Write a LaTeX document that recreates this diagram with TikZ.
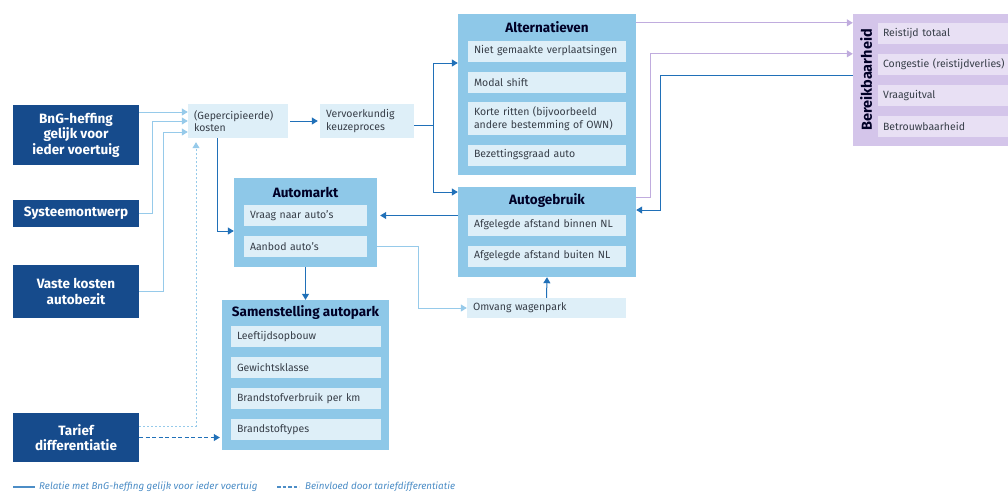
\documentclass[tikz,border=0pt]{standalone}
\usepackage{fontspec}
\setmainfont{Fira Sans}
\usetikzlibrary{arrows.meta,positioning}
\hyphenpenalty=10000

\definecolor{donkerblauw}{RGB}{22,75,140}
\definecolor{groepblauw}{RGB}{142,200,232}
\definecolor{lichtblauw}{RGB}{222,239,248}
\definecolor{lijnblauw}{RGB}{32,112,184}
\definecolor{lijnlicht}{RGB}{150,202,234}
\definecolor{paars}{RGB}{212,197,234}
\definecolor{lichtpaars}{RGB}{232,224,244}
\definecolor{lijnpaars}{RGB}{192,172,222}
\definecolor{tekstgrijs}{RGB}{55,62,72}

\begin{document}
\begin{tikzpicture}[x=1pt,y=-1pt]

    \tikzset{bron/.style = {shape=rectangle,fill=donkerblauw,text=white,font=\fontsize{13.5}{15.5}\selectfont\bfseries,align=center,minimum width=126pt,inner sep=0pt}}
    \tikzset{groep/.style = {shape=rectangle,fill=groepblauw,inner sep=0pt}}
    \tikzset{titel/.style = {text=black!85!blue,font=\fontsize{13.5}{15}\selectfont\bfseries,inner sep=0pt}}
    \tikzset{item/.style = {shape=rectangle,fill=lichtblauw,text=tekstgrijs,font=\fontsize{10.5}{12.5}\selectfont,align=left,inner xsep=6pt,inner ysep=0pt,minimum height=21pt}}
    \tikzset{paarsitem/.style = {item,fill=lichtpaars,inner xsep=5pt}}
    \tikzset{donker/.style = {-{Triangle[length=6pt,width=7pt]},lijnblauw,line width=1pt}}
    \tikzset{licht/.style = {-{Triangle[length=6pt,width=7pt]},lijnlicht,line width=1pt}}
    \tikzset{paarslijn/.style = {-{Triangle[length=6pt,width=7pt]},lijnpaars,line width=1pt}}
    \tikzset{legenda/.style = {text=lijnblauw!80!white,font=\fontsize{9.8}{11}\selectfont\itshape,inner sep=0pt,anchor=west}}

    \useasboundingbox (0,0) rectangle (1008,491);

    % bronnen links
    \node [bron,minimum height=60pt] (bng) at (76,135) {BnG-heffing\\gelijk voor\\ieder voertuig};
    \node [bron,minimum height=27pt] (systeem) at (76,213.5) {Systeemontwerp};
    \node [bron,minimum height=53pt] (vaste) at (76,291.5) {Vaste kosten\\autobezit};
    \node [bron,minimum height=49pt] (tarief) at (76,437.5) {Tarief\\differentiatie};

    % kosten en keuze
    \node [item,text width=88pt,minimum height=34pt] (kosten) at (238,121) {(Gepercipieerde)\\kosten};
    \node [item,text width=82pt,minimum height=34pt] (keuze) at (367,121) {Vervoerkundig\\keuzeproces};

    % Alternatieven
    \node [groep,minimum width=178pt,minimum height=161pt] (alternatieven) at (547,94.5) {};
    \node [titel] (altTitel) at (547,27) {Alternatieven};
    \node [item,text width=146pt] (niet) at (547,51) {Niet gemaakte verplaatsingen};
    \node [item,text width=146pt] (modal) at (547,82.5) {Modal shift};
    \node [item,text width=146pt,minimum height=33pt] (korte) at (547,118.5) {Korte ritten (bijvoorbeeld\\andere bestemming of OWN)};
    \node [item,text width=146pt] (bezet) at (547,155) {Bezettingsgraad auto};

    % Autogebruik
    \node [groep,minimum width=178pt,minimum height=90pt] (autogebruik) at (547,232) {};
    \node [titel] (gebruikTitel) at (547,201) {Autogebruik};
    \node [item,text width=146pt] (binnen) at (547,225) {Afgelegde afstand binnen NL};
    \node [item,text width=146pt] (buiten) at (547,256) {Afgelegde afstand buiten NL};
    \node [item,text width=147pt,minimum height=20pt] (omvang) at (546.5,308) {Omvang wagenpark};

    % Automarkt
    \node [groep,minimum width=143pt,minimum height=89pt] (automarkt) at (305.5,222.5) {};
    \node [titel] (marktTitel) at (305.5,192) {Automarkt};
    \node [item,text width=111pt] (vraag) at (305.5,215.5) {Vraag naar auto's};
    \node [item,text width=111pt] (aanbod) at (305.5,246.5) {Aanbod auto's};

    % Samenstelling autopark
    \node [groep,minimum width=167pt,minimum height=150pt] (samenstelling) at (305.5,375) {};
    \node [titel] (samenTitel) at (305.5,313) {Samenstelling autopark};
    \node [item,text width=138pt] (leeftijd) at (306,336.5) {Leeftijdsopbouw};
    \node [item,text width=138pt] (gewicht) at (306,367.5) {Gewichtsklasse};
    \node [item,text width=138pt] (verbruik) at (306,398.5) {Brandstofverbruik per km};
    \node [item,text width=138pt] (types) at (306,429.5) {Brandstoftypes};

    % Bereikbaarheid
    \node [groep,fill=paars,minimum width=157pt,minimum height=132pt] (bereik) at (931.5,80) {};
    \node [titel,rotate=90,font=\fontsize{14.5}{16}\selectfont\bfseries] (bereikTitel) at (866,80) {Bereikbaarheid};
    \node [paarsitem,text width=122pt] (reistijd) at (944,33.5) {Reistijd totaal};
    \node [paarsitem,text width=122pt] (congestie) at (944,64.5) {Congestie (reistijdverlies)};
    \node [paarsitem,text width=122pt] (uitval) at (944,95.5) {Vraaguitval};
    \node [paarsitem,text width=122pt] (betrouw) at (944,126) {Betrouwbaarheid};

    % bronnen naar kosten
    \draw [licht] ([yshift=23pt]bng.east)
        -- ([yshift=9pt]kosten.west);
    \draw [licht] (systeem.east)
        -- ++(13,0) |- (kosten.west);
    \draw [licht] (vaste.east)
        -- ++(24,0) |- ([yshift=-11pt]kosten.west);
    \draw [licht,dashed,dash pattern=on 2pt off 2pt,shorten >=4pt] ([yshift=11pt]tarief.east)
        -| ([xshift=-42pt]kosten.south);
    \draw [donker,dashed,dash pattern=on 4pt off 2.5pt,shorten >=2pt] (tarief.east)
        -- (tarief.east -| samenstelling.west);

    % keuzeproces
    \coordinate (splits) at (433,125);
    \draw [donker,shorten <=2pt,shorten >=2pt] (kosten)
        -- (keuze);
    \draw [donker] ([xshift=-21pt]kosten.south)
        |- ([yshift=-8.5pt]automarkt.west);
    \draw [lijnblauw,line width=1pt] (keuze.east |- splits)
        -- (splits);
    \draw [donker] (splits)
        |- ([yshift=31.5pt]alternatieven.west);
    \draw [donker] (splits)
        |- ([yshift=40pt]autogebruik.west);

    % autopark
    \draw [donker,shorten >=3pt] (autogebruik.west |- vraag)
        -- (automarkt.east |- vraag);
    \draw [donker] (automarkt.south)
        -- (samenstelling.north);
    \draw [licht] (automarkt.east |- aanbod)
        -- ++(41,0) |- (omvang.west);
    \draw [donker] (omvang.north)
        -- (autogebruik.south);

    % bereikbaarheid
    \coordinate (hoek) at (660,210);
    \draw [paarslijn] (alternatieven.east |- reistijd.north)
        -- (bereik.west |- reistijd.north);
    \draw [paarslijn] ([yshift=35pt]autogebruik.east)
        -- ++(14,0) |- (bereik.west |- congestie.north);
    \draw [donker] (bereik.west |- congestie.south)
        -| (hoek) -- (autogebruik.east |- hoek);

    % legenda
    \node [legenda] (legSolide) at (39,487) {Relatie met BnG-heffing gelijk voor ieder voertuig};
    \node [legenda] (legStreep) at (305,487) {Beïnvloed door tariefdifferentiatie};
    \draw [lijnblauw!80!white,line width=1.4pt] ([xshift=-26pt]legSolide.west)
        -- ([xshift=-4pt]legSolide.west);
    \draw [lijnblauw!80!white,line width=1.4pt,dash pattern=on 3.5pt off 2pt] ([xshift=-28pt]legStreep.west)
        -- ([xshift=-6pt]legStreep.west);

\end{tikzpicture}
\end{document}
